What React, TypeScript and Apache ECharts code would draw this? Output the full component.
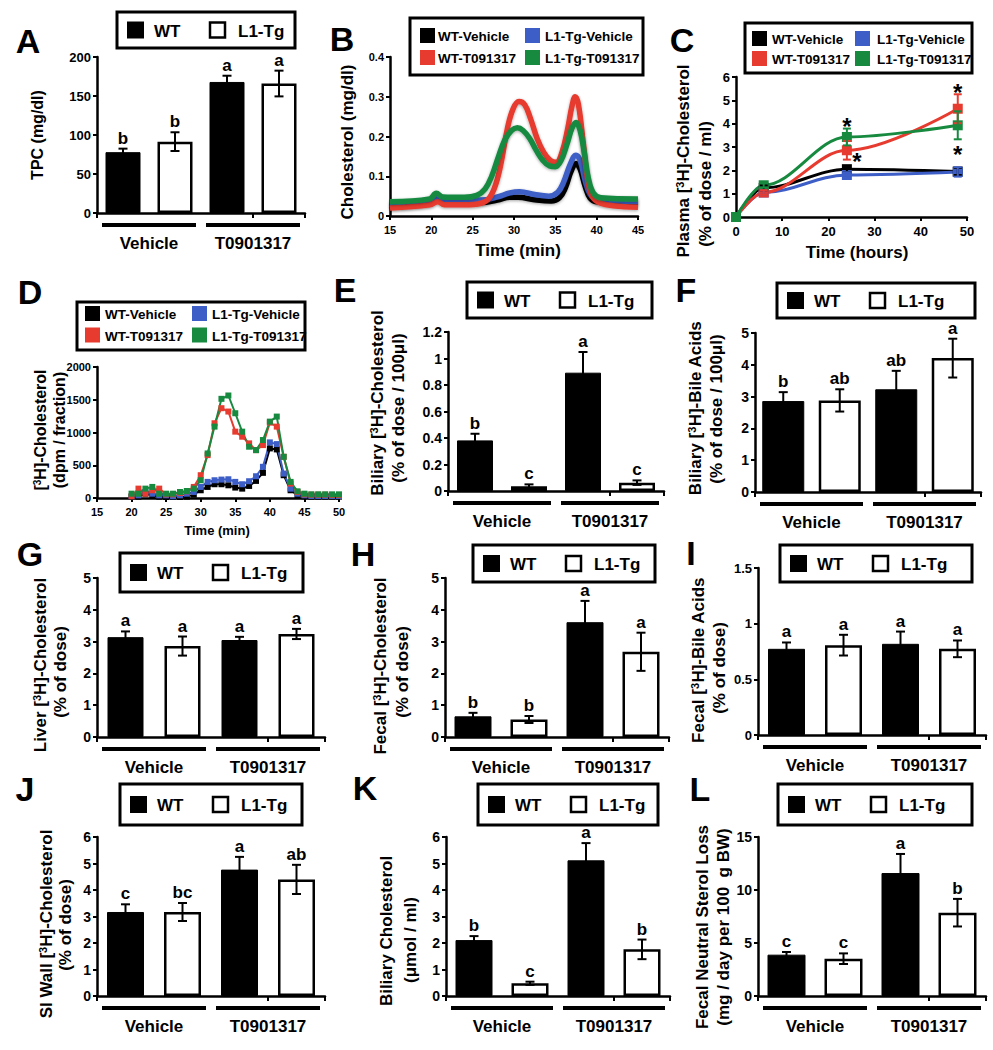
import React, { useEffect, useRef } from 'react';
import * as echarts from 'echarts';

const FF = '"Liberation Sans", Arial, Helvetica, sans-serif';

// ---------------- categories / names ----------------
const BAR_CATEGORIES = ['WT-Vehicle', 'L1-Tg-Vehicle', 'WT-T0901317', 'L1-Tg-T0901317'];
const GROUP_LABELS = ['Vehicle', 'T0901317'];
const GENOTYPE_NAMES = ['WT', 'L1-Tg'];
const CURVE_NAMES = ['WT-Vehicle', 'L1-Tg-Vehicle', 'WT-T091317', 'L1-Tg-T091317'];
const CURVE_COLORS = ['#000000', '#3d5ec6', '#e63b2e', '#178a40'];

// ---------------- Panel A: TPC ----------------
const tpcMean = [78, 91.5, 168, 166];
const tpcErr = [4.5, 12, 8, 16.5];
const tpcSig = ['b', 'b', 'a', 'a'];

// ---------------- Panel B: FPLC cholesterol [time, mg/dl] ----------------
const fplcWtVehicle = [[15, 0.023], [19.8, 0.032], [20.8, 0.043], [21.6, 0.034], [26, 0.034], [28, 0.04], [29.5, 0.047], [30.5, 0.047], [32.5, 0.041], [34.5, 0.038], [35.5, 0.046], [36.2, 0.07], [36.9, 0.112], [37.5, 0.132], [38, 0.118], [38.6, 0.075], [39.2, 0.045], [40, 0.036], [45, 0.032]];
const fplcL1Vehicle = [[15, 0.03], [19.8, 0.038], [20.8, 0.047], [21.6, 0.04], [26, 0.04], [28, 0.048], [29.5, 0.058], [30.7, 0.061], [32.5, 0.054], [34.2, 0.05], [35.3, 0.06], [36, 0.085], [36.8, 0.13], [37.5, 0.153], [38, 0.14], [38.6, 0.09], [39.2, 0.055], [40, 0.043], [45, 0.036]];
const fplcWtT = [[15, 0.02], [19.8, 0.028], [20.8, 0.036], [21.6, 0.028], [24, 0.028], [26, 0.032], [27, 0.045], [27.8, 0.08], [28.5, 0.14], [29.2, 0.22], [29.9, 0.27], [30.6, 0.288], [31.3, 0.28], [32, 0.245], [32.8, 0.195], [33.6, 0.16], [34.4, 0.14], [35.1, 0.135], [35.8, 0.16], [36.5, 0.22], [37, 0.275], [37.4, 0.3], [37.8, 0.28], [38.4, 0.18], [39, 0.08], [39.6, 0.045], [40.5, 0.032], [42, 0.026], [45, 0.022]];
const fplcL1T = [[15, 0.036], [19.8, 0.043], [20.6, 0.057], [21.4, 0.048], [24, 0.047], [25.5, 0.052], [26.5, 0.068], [27.3, 0.1], [28.1, 0.148], [28.9, 0.192], [29.7, 0.215], [30.4, 0.222], [31.1, 0.215], [31.9, 0.195], [32.7, 0.165], [33.5, 0.14], [34.3, 0.126], [35, 0.124], [35.7, 0.14], [36.4, 0.18], [37, 0.22], [37.5, 0.235], [38, 0.215], [38.5, 0.16], [39, 0.095], [39.6, 0.058], [40.5, 0.046], [45, 0.043]];

// ---------------- Panel C: plasma [3H]-cholesterol ----------------
const plasmaHours = [0, 6, 24, 48];
const plasmaWtVeh = [0, 1.25, 2.05, 1.95];
const plasmaWtVehErr = [0, 0.1, 0.12, 0.15];
const plasmaL1Veh = [0, 1.05, 1.8, 1.93];
const plasmaL1VehErr = [0, 0.1, 0.12, 0.2];
const plasmaWtT = [0, 1.05, 2.86, 4.64];
const plasmaWtTErr = [0, 0.1, 0.4, 0.62];
const plasmaL1T = [0, 1.36, 3.43, 3.93];
const plasmaL1TErr = [0, 0.1, 0.36, 0.6];
const plasmaStars = [[24, 4.15], [26.2, 2.64], [48, 5.6], [48, 2.93]];

// ---------------- Panel D: [3H]-cholesterol FPLC fractions ----------------
const fractionMin = [20, 21, 22, 23, 24, 25, 26, 27, 28, 29, 30, 31, 32, 33, 34, 35, 36, 37, 38, 39, 40, 41, 42, 43, 44, 45, 46, 47, 48, 49, 50];
const dpmWtVeh = [15, 20, 66, 40, 20, 15, 15, 15, 20, 51, 118, 169, 210, 210, 194, 159, 143, 184, 261, 384, 757, 742, 348, 118, 41, 25, 20, 20, 20, 20, 20];
const dpmL1Veh = [26, 41, 92, 66, 41, 41, 26, 41, 66, 92, 169, 246, 271, 281, 286, 246, 210, 256, 332, 476, 849, 823, 373, 143, 66, 41, 30, 30, 30, 30, 30];
const dpmWtT = [26, 143, 66, 118, 143, 56, 56, 77, 102, 169, 348, 655, 1141, 1371, 1320, 1013, 936, 834, 731, 808, 1151, 1090, 629, 220, 92, 56, 50, 50, 50, 45, 45];
const dpmL1T = [66, 66, 143, 169, 66, 66, 66, 92, 107, 143, 271, 680, 1090, 1514, 1565, 1294, 1013, 783, 731, 885, 1166, 1243, 629, 246, 102, 66, 56, 56, 56, 56, 56];

// ---------------- Bar panels E - L ----------------
const biliaryCholMean = [0.382, 0.035, 0.893, 0.063];
const biliaryCholErr = [0.05, 0.015, 0.156, 0.017];
const biliaryCholSig = ['b', 'c', 'a', 'c'];

const biliaryBAMean = [2.86, 2.88, 3.23, 4.21];
const biliaryBAErr = [0.28, 0.35, 0.58, 0.61];
const biliaryBASig = ['b', 'ab', 'ab', 'a'];

const liverCholMean = [3.14, 2.86, 3.05, 3.24];
const liverCholErr = [0.18, 0.3, 0.1, 0.16];
const liverCholSig = ['a', 'a', 'a', 'a'];

const fecalCholMean = [0.65, 0.55, 3.61, 2.68];
const fecalCholErr = [0.11, 0.11, 0.67, 0.6];
const fecalCholSig = ['b', 'b', 'a', 'a'];

const fecalBAMean = [0.774, 0.807, 0.819, 0.774];
const fecalBAErr = [0.057, 0.093, 0.11, 0.075];
const fecalBASig = ['a', 'a', 'a', 'a'];

const siWallMean = [3.17, 3.17, 4.77, 4.4];
const siWallErr = [0.29, 0.34, 0.48, 0.55];
const siWallSig = ['c', 'bc', 'a', 'ab'];

const biliaryMassMean = [2.11, 0.48, 5.12, 1.76];
const biliaryMassErr = [0.15, 0.06, 0.65, 0.37];
const biliaryMassSig = ['b', 'c', 'a', 'b'];

const sterolLossMean = [3.9, 3.52, 11.6, 7.86];
const sterolLossErr = [0.25, 0.5, 1.8, 1.3];
const sterolLossSig = ['c', 'c', 'a', 'b'];

// ---------------- texts ----------------
const Y_TITLES: Record<string, string[]> = {
  A: ['TPC (mg/dl)'],
  B: ['Cholesterol (mg/dl)'],
  C: ['Plasma [{s|3}H]-Cholesterol', '(% of dose / ml)'],
  D: ['[{s|3}H]-Cholesterol', '(dpm / fraction)'],
  E: ['Biliary [{s|3}H]-Cholesterol', '(% of dose / 100μl)'],
  F: ['Biliary [{s|3}H]-Bile Acids', '(% of dose / 100μl)'],
  G: ['Liver [{s|3}H]-Cholesterol', '(% of dose)'],
  H: ['Fecal [{s|3}H]-Cholesterol', '(% of dose)'],
  I: ['Fecal [{s|3}H]-Bile Acids', '(% of dose)'],
  J: ['SI Wall [{s|3}H]-Cholesterol', '(% of dose)'],
  K: ['Biliary Cholesterol', '(μmol / ml)'],
  L: ['Fecal Neutral Sterol Loss', '(mg / day per 100  g BW)'],
};
const X_TITLES: Record<string, string> = { B: 'Time (min)', C: 'Time (hours)', D: 'Time (min)' };

// ---------------- layout (pixels) ----------------
type Rect = { left: number; top: number; width: number; height: number };
const GRIDS: Record<string, Rect> = {
  A: { left: 97, top: 57, width: 208, height: 156 },
  B: { left: 390, top: 57, width: 248, height: 159 },
  C: { left: 736, top: 77, width: 231, height: 140 },
  D: { left: 97, top: 367, width: 242, height: 131 },
  E: { left: 448, top: 332, width: 216, height: 159 },
  F: { left: 755, top: 333, width: 226, height: 159 },
  G: { left: 97, top: 578, width: 228, height: 159 },
  H: { left: 445, top: 578, width: 224, height: 159 },
  I: { left: 758, top: 568, width: 228, height: 167 },
  J: { left: 97, top: 837, width: 228, height: 159 },
  K: { left: 446, top: 837, width: 224, height: 159 },
  L: { left: 758, top: 837, width: 228, height: 159 },
};
const LETTER_POS: Record<string, [number, number]> = {
  A: [28, 41], B: [342, 39], C: [682, 40], D: [30, 292], E: [345, 290], F: [686, 290],
  G: [30, 554], H: [363, 554], I: [691, 553], J: [25, 789], K: [365, 788], L: [700, 789],
};
const Y_TITLE_POS: Record<string, [number, number][]> = {
  A: [[37, 135]], B: [[347, 142]], C: [[683, 161], [705, 184]], D: [[40, 430], [59, 430]],
  E: [[377, 403], [398, 408]], F: [[695, 408], [716, 409]], G: [[40, 665], [60, 672]],
  H: [[380, 666], [402, 672]], I: [[698, 660], [719, 668]], J: [[46, 924], [65, 925]],
  K: [[386, 931], [410, 940]], L: [[702, 927], [723, 927]],
};
const Y_TITLE_SIZE: Record<string, number> = { A: 16, D: 16 };
const X_TITLE_POS: Record<string, [number, number, number]> = { B: [518, 250, 17], C: [857, 252, 17], D: [217, 530, 13] };
const LEGEND2: Record<string, { x: number; y: number; w: number; h: number }> = {
  A: { x: 117, y: 12, w: 178, h: 36 }, E: { x: 467, y: 282, w: 185, h: 36 }, F: { x: 777, y: 283, w: 198, h: 35 },
  G: { x: 120, y: 553, w: 183, h: 39 }, H: { x: 473, y: 545, w: 182, h: 37 }, I: { x: 780, y: 545, w: 192, h: 37 },
  J: { x: 120, y: 784, w: 182, h: 41 }, K: { x: 478, y: 784, w: 180, h: 41 }, L: { x: 778, y: 784, w: 194, h: 41 },
};
const LEGEND4: Record<string, { x: number; y: number; w: number; h: number; cols: number[]; rows: number[] }> = {
  B: { x: 410, y: 18, w: 233, h: 57, cols: [10, 28, 115, 135], rows: [17.5, 39.5] },
  C: { x: 745, y: 23, w: 227, h: 50, cols: [7, 27, 110, 132], rows: [15.5, 35.5] },
  D: { x: 77, y: 302, w: 228, h: 48, cols: [8, 28, 115, 135], rows: [11.5, 33] },
};

const BAR_PANELS = [
  { key: 'A', mean: tpcMean, err: tpcErr, sig: tpcSig, max: 200, interval: 50 },
  { key: 'E', mean: biliaryCholMean, err: biliaryCholErr, sig: biliaryCholSig, max: 1.2, interval: 0.2 },
  { key: 'F', mean: biliaryBAMean, err: biliaryBAErr, sig: biliaryBASig, max: 5, interval: 1 },
  { key: 'G', mean: liverCholMean, err: liverCholErr, sig: liverCholSig, max: 5, interval: 1 },
  { key: 'H', mean: fecalCholMean, err: fecalCholErr, sig: fecalCholSig, max: 5, interval: 1 },
  { key: 'I', mean: fecalBAMean, err: fecalBAErr, sig: fecalBASig, max: 1.5, interval: 0.5 },
  { key: 'J', mean: siWallMean, err: siWallErr, sig: siWallSig, max: 6, interval: 1 },
  { key: 'K', mean: biliaryMassMean, err: biliaryMassErr, sig: biliaryMassSig, max: 6, interval: 1 },
  { key: 'L', mean: sterolLossMean, err: sterolLossErr, sig: sterolLossSig, max: 15, interval: 5 },
];
const BAR_STYLE: Record<string, { barWidth: number; tickFont: number }> = {
  A: { barWidth: 35, tickFont: 13 }, E: { barWidth: 36, tickFont: 14 }, F: { barWidth: 42, tickFont: 14 },
  G: { barWidth: 36, tickFont: 14 }, H: { barWidth: 37, tickFont: 14 }, I: { barWidth: 37, tickFont: 13 },
  J: { barWidth: 37, tickFont: 14 }, K: { barWidth: 37, tickFont: 14 }, L: { barWidth: 38, tickFont: 14 },
};

const PANEL_KEYS = ['A', 'B', 'C', 'D', 'E', 'F', 'G', 'H', 'I', 'J', 'K', 'L'];

// ---------------- helpers ----------------
const axisLineStyle = { color: '#000', width: 2.5 };
const tickStyle = { color: '#000', width: 2 };
const plainNumber = (v: number) => String(v);

function valueYAxis(gi: number, max: number, interval: number, fontSize: number) {
  return {
    type: 'value', gridIndex: gi, min: 0, max, interval,
    axisLine: { show: true, lineStyle: axisLineStyle },
    axisTick: { show: true, length: 4, lineStyle: tickStyle },
    axisLabel: { color: '#000', fontSize, fontWeight: 'bold', fontFamily: FF, margin: 6, formatter: plainNumber },
    splitLine: { show: false },
  };
}
function valueXAxis(gi: number, min: number, max: number, interval: number, fontSize: number) {
  return {
    type: 'value', gridIndex: gi, min, max, interval,
    axisLine: { show: true, onZero: false, lineStyle: axisLineStyle },
    axisTick: { show: true, length: 4, lineStyle: tickStyle },
    axisLabel: { color: '#000', fontSize, fontWeight: 'bold', fontFamily: FF, margin: 8, formatter: plainNumber },
    splitLine: { show: false },
  };
}
function catXAxis(gi: number) {
  return {
    type: 'category', gridIndex: gi, data: BAR_CATEGORIES,
    axisLine: { show: true, onZero: false, lineStyle: axisLineStyle },
    axisTick: { show: true, length: 5, lineStyle: tickStyle },
    axisLabel: { show: false },
    splitLine: { show: false },
  };
}

function textStyle(text: string, size: number, align = 'center', vAlign = 'middle') {
  return {
    text, fill: '#000', fontSize: size, fontWeight: 'bold', fontFamily: FF,
    align, verticalAlign: vAlign, textAlign: align, textVerticalAlign: vAlign,
    rich: { s: { fontSize: Math.round(size * 0.62), fontWeight: 'bold', fontFamily: FF, fill: '#000', verticalAlign: 'top' } },
  };
}

function errorSeries(gi: number, pts: number[][], color: string, cap: number, sig?: string[], sigSize = 16) {
  return {
    type: 'custom', xAxisIndex: gi, yAxisIndex: gi, z: 4, silent: true, data: pts,
    renderItem: (params: any, api: any) => {
      const x = api.value(0), m = api.value(1), e = api.value(2);
      const top = api.coord([x, m + e]);
      const bot = api.coord([x, m - e]);
      const ls = { stroke: color, lineWidth: 2 };
      const children: any[] = [];
      if (e > 0) {
        children.push({ type: 'line', shape: { x1: top[0], y1: top[1], x2: bot[0], y2: bot[1] }, style: ls });
        children.push({ type: 'line', shape: { x1: top[0] - cap, y1: top[1], x2: top[0] + cap, y2: top[1] }, style: ls });
        children.push({ type: 'line', shape: { x1: bot[0] - cap, y1: bot[1], x2: bot[0] + cap, y2: bot[1] }, style: ls });
      }
      if (sig) {
        children.push({ type: 'text', x: top[0], y: top[1] - 2, style: textStyle(sig[params.dataIndex], sigSize, 'center', 'bottom') });
      }
      return { type: 'group', children };
    },
  };
}

function legend2Graphics(l: { x: number; y: number; w: number; h: number }) {
  const cy = l.y + l.h / 2;
  return [
    { type: 'rect', z: 100, shape: { x: l.x, y: l.y, width: l.w, height: l.h }, style: { fill: '#fff', stroke: '#000', lineWidth: 3 } },
    { type: 'rect', z: 101, shape: { x: l.x + 10, y: cy - 8.5, width: 17, height: 17 }, style: { fill: '#000' } },
    { type: 'text', z: 101, x: l.x + 37, y: cy + 1, style: textStyle(GENOTYPE_NAMES[0], 17, 'left', 'middle') },
    { type: 'rect', z: 101, shape: { x: l.x + 93, y: cy - 7.5, width: 15, height: 15 }, style: { fill: '#fff', stroke: '#000', lineWidth: 2.5 } },
    { type: 'text', z: 101, x: l.x + 121, y: cy + 1, style: textStyle(GENOTYPE_NAMES[1], 17, 'left', 'middle') },
  ];
}

function legend4Graphics(l: { x: number; y: number; w: number; h: number; cols: number[]; rows: number[] }) {
  const els: any[] = [
    { type: 'rect', z: 100, shape: { x: l.x, y: l.y, width: l.w, height: l.h }, style: { fill: '#fff', stroke: '#000', lineWidth: 3 } },
  ];
  CURVE_NAMES.forEach((name, i) => {
    const col = i % 2, row = Math.floor(i / 2);
    const cy = l.y + l.rows[row];
    els.push({ type: 'rect', z: 101, shape: { x: l.x + l.cols[col * 2], y: cy - 7.5, width: 15, height: 15 }, style: { fill: CURVE_COLORS[i] } });
    els.push({ type: 'text', z: 101, x: l.x + l.cols[col * 2 + 1], y: cy + 1, style: textStyle(name, 13.5, 'left', 'middle') });
  });
  return els;
}

function groupGraphics(g: Rect) {
  const bottom = g.top + g.height;
  const mid = g.left + g.width / 2;
  const ly = bottom + 12;
  const ls = { stroke: '#000', lineWidth: 4 };
  return [
    { type: 'line', z: 100, shape: { x1: g.left + 5, y1: ly, x2: mid - 5, y2: ly }, style: ls },
    { type: 'line', z: 100, shape: { x1: mid + 5, y1: ly, x2: g.left + g.width - 5, y2: ly }, style: ls },
    { type: 'text', z: 100, x: g.left + g.width / 4, y: bottom + 30, style: textStyle(GROUP_LABELS[0], 17) },
    { type: 'text', z: 100, x: g.left + (3 * g.width) / 4, y: bottom + 30, style: textStyle(GROUP_LABELS[1], 17) },
  ];
}

function buildOption() {
  const grid: any[] = [], xAxis: any[] = [], yAxis: any[] = [], series: any[] = [], graphic: any[] = [];
  const gi: Record<string, number> = {};
  PANEL_KEYS.forEach((k, i) => {
    gi[k] = i;
    const g = GRIDS[k];
    grid.push({ left: g.left, top: g.top, width: g.width, height: g.height, outerBoundsMode: 'none' });
    xAxis.push(null);
    yAxis.push(null);
  });

  // ---- bar panels ----
  BAR_PANELS.forEach((p) => {
    const i = gi[p.key];
    const st = BAR_STYLE[p.key];
    xAxis[i] = catXAxis(i);
    yAxis[i] = valueYAxis(i, p.max, p.interval, st.tickFont);
    series.push({
      type: 'bar', name: GENOTYPE_NAMES[0], xAxisIndex: i, yAxisIndex: i, barWidth: st.barWidth, barGap: '-100%', silent: true,
      data: p.mean.map((v, j) => (j % 2 === 0 ? v : null)),
      itemStyle: { color: '#000', borderColor: '#000', borderWidth: 1 },
    });
    series.push({
      type: 'bar', name: GENOTYPE_NAMES[1], xAxisIndex: i, yAxisIndex: i, barWidth: st.barWidth, barGap: '-100%', silent: true,
      data: p.mean.map((v, j) => (j % 2 === 1 ? v : null)),
      itemStyle: { color: '#fff', borderColor: '#000', borderWidth: 2.5 },
    });
    series.push(errorSeries(i, p.mean.map((m, j) => [j, m, p.err[j]]), '#000', 4.5, p.sig, 17));
    graphic.push(...legend2Graphics(LEGEND2[p.key]));
    graphic.push(...groupGraphics(GRIDS[p.key]));
  });

  // ---- B: FPLC lines ----
  {
    const i = gi.B;
    xAxis[i] = valueXAxis(i, 15, 45, 5, 11);
    yAxis[i] = valueYAxis(i, 0.4, 0.1, 11);
    [fplcWtVehicle, fplcL1Vehicle, fplcWtT, fplcL1T].forEach((d, s) => {
      series.push({
        type: 'line', name: CURVE_NAMES[s], xAxisIndex: i, yAxisIndex: i, data: d, smooth: 0.4,
        showSymbol: false, symbol: 'none', silent: true,
        lineStyle: { color: CURVE_COLORS[s], width: 5.5, shadowColor: 'rgba(0,0,0,0.35)', shadowBlur: 3, shadowOffsetY: 1 },
        itemStyle: { color: CURVE_COLORS[s] },
      });
    });
    graphic.push(...legend4Graphics(LEGEND4.B));
  }

  // ---- C: plasma time course ----
  {
    const i = gi.C;
    xAxis[i] = valueXAxis(i, 0, 50, 10, 13);
    yAxis[i] = valueYAxis(i, 6, 1, 13);
    const means = [plasmaWtVeh, plasmaL1Veh, plasmaWtT, plasmaL1T];
    const errs = [plasmaWtVehErr, plasmaL1VehErr, plasmaWtTErr, plasmaL1TErr];
    means.forEach((m, s) => {
      series.push({
        type: 'line', name: CURVE_NAMES[s], xAxisIndex: i, yAxisIndex: i, silent: true,
        data: plasmaHours.map((h, j) => [h, m[j]]), smooth: 0.35, smoothMonotone: 'x',
        symbol: 'rect', symbolSize: 10, showSymbol: true,
        lineStyle: { color: CURVE_COLORS[s], width: 3 }, itemStyle: { color: CURVE_COLORS[s] },
      });
      series.push(errorSeries(i, plasmaHours.map((h, j) => [h, m[j], errs[s][j]]), CURVE_COLORS[s], 4));
    });
    series.push({
      type: 'custom', xAxisIndex: i, yAxisIndex: i, z: 6, silent: true, data: plasmaStars,
      renderItem: (_p: any, api: any) => {
        const c = api.coord([api.value(0), api.value(1)]);
        return { type: 'text', x: c[0], y: c[1] + 6, style: textStyle('*', 24) };
      },
    });
    graphic.push(...legend4Graphics(LEGEND4.C));
  }

  // ---- D: fractions ----
  {
    const i = gi.D;
    xAxis[i] = valueXAxis(i, 15, 50, 5, 11);
    yAxis[i] = valueYAxis(i, 2000, 500, 11);
    [dpmWtVeh, dpmL1Veh, dpmWtT, dpmL1T].forEach((d, s) => {
      series.push({
        type: 'line', name: CURVE_NAMES[s], xAxisIndex: i, yAxisIndex: i, silent: true,
        data: fractionMin.map((t, j) => [t, d[j]]),
        symbol: 'rect', symbolSize: 6, showSymbol: true,
        lineStyle: { color: CURVE_COLORS[s], width: 2 }, itemStyle: { color: CURVE_COLORS[s] },
      });
    });
    graphic.push(...legend4Graphics(LEGEND4.D));
  }

  // ---- panel letters, axis titles ----
  PANEL_KEYS.forEach((k) => {
    const [lx, ly] = LETTER_POS[k];
    graphic.push({ type: 'text', z: 100, x: lx, y: ly, style: textStyle(k, 34) });
    const lines = Y_TITLES[k];
    lines.forEach((t, j) => {
      const [tx, ty] = Y_TITLE_POS[k][j];
      graphic.push({ type: 'text', z: 100, x: tx, y: ty, rotation: Math.PI / 2, style: textStyle(t, Y_TITLE_SIZE[k] || 17) });
    });
    if (X_TITLES[k]) {
      const [tx, ty, ts] = X_TITLE_POS[k];
      graphic.push({ type: 'text', z: 100, x: tx, y: ty, style: textStyle(X_TITLES[k], ts) });
    }
  });

  return { animation: false, backgroundColor: '#ffffff', grid, xAxis, yAxis, series, graphic };
}

export default function App() {
  const ref = useRef<HTMLDivElement>(null);
  useEffect(() => {
    const chart = echarts.init(ref.current as HTMLDivElement, undefined, { renderer: 'svg' });
    chart.setOption(buildOption() as any);
    return () => chart.dispose();
  }, []);
  return <div ref={ref} style={{ position: 'absolute', left: 0, top: 0, width: 993, height: 1050, background: '#fff' }} />;
}
